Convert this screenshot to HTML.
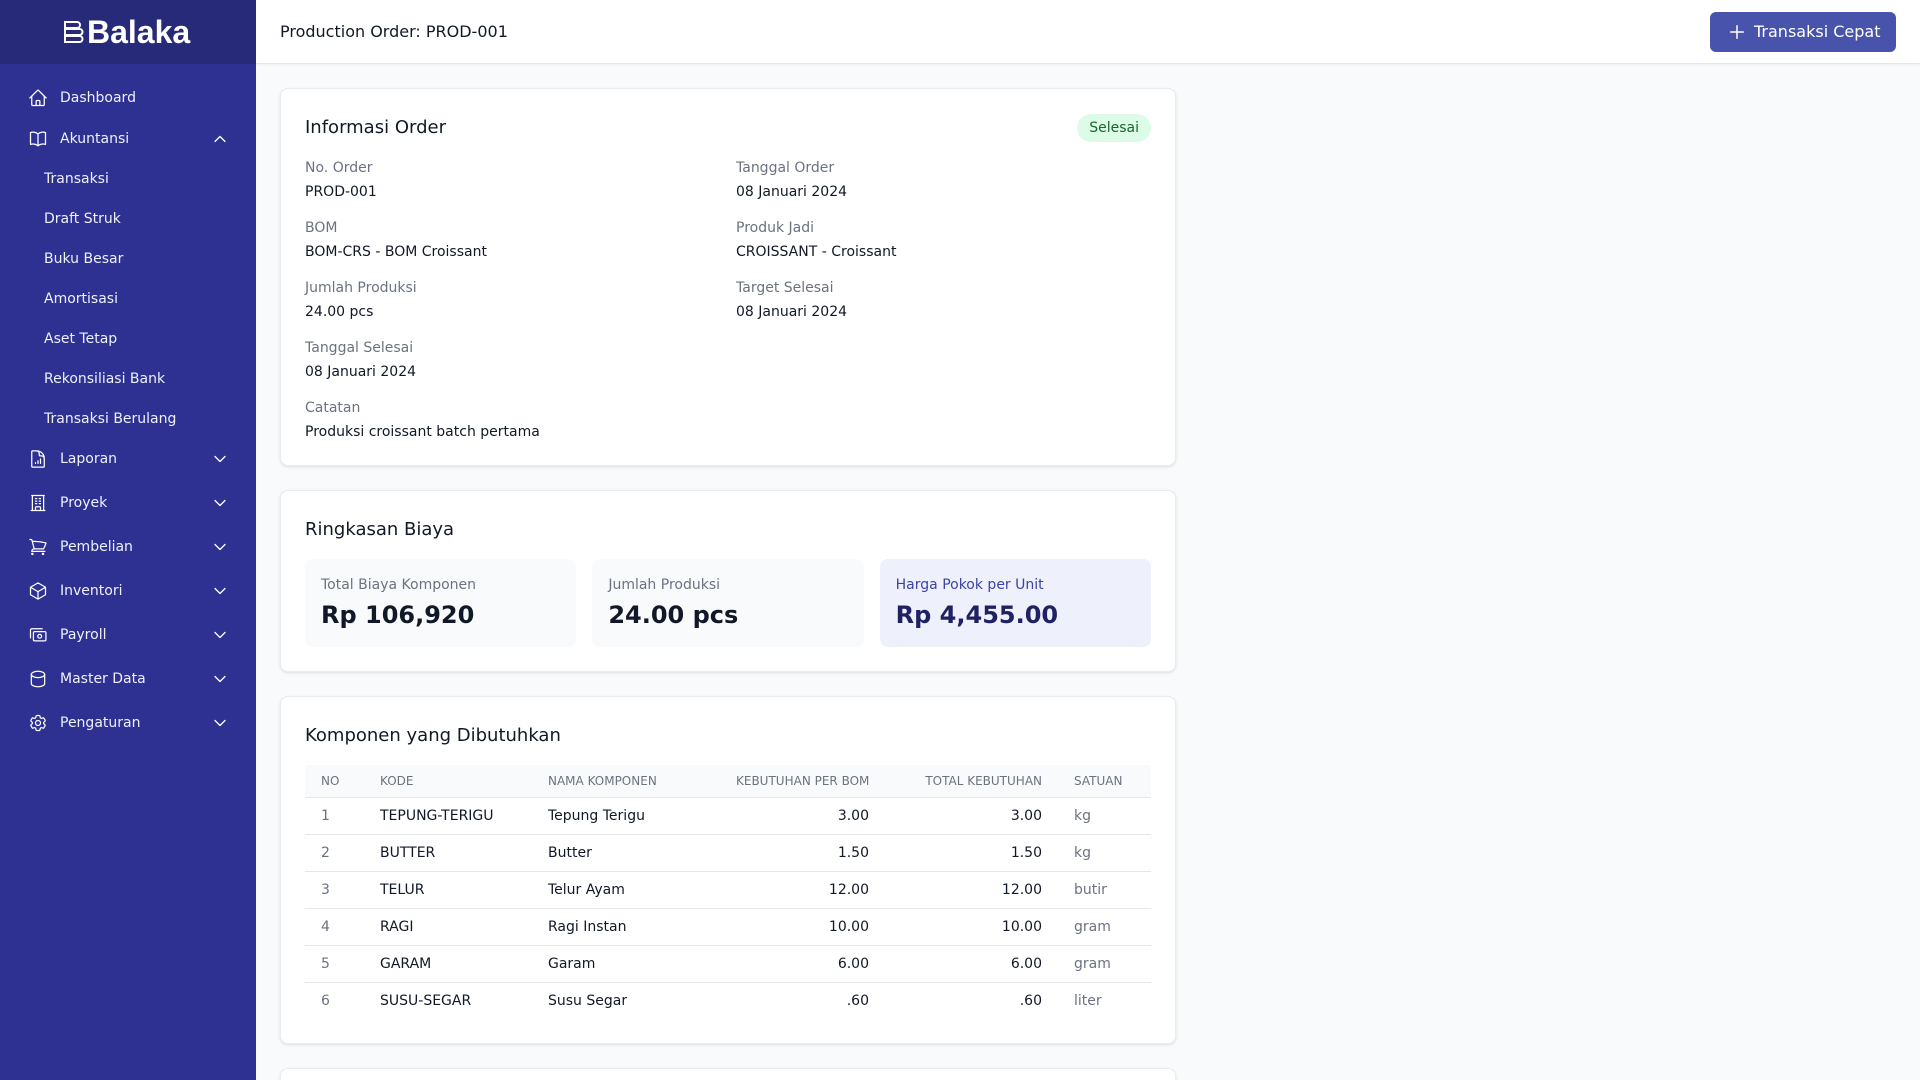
<!DOCTYPE html>
<html>
<head>
<meta charset="utf-8">
<style>
  *{box-sizing:border-box;margin:0;padding:0}
  html,body{width:1920px;height:1080px;overflow:hidden}
  body{font-family:"DejaVu Sans","Liberation Sans",sans-serif;background:#f9fafb;color:#111827;position:relative}
  .sidebar{position:absolute;left:0;top:0;width:256px;height:1080px;background:#2e3192}
  .logo{position:absolute;left:0;top:0;width:256px;height:64px;background:#272a79}
  .logo .txt{position:absolute;left:87px;top:14px;font-family:"Liberation Sans",Arial,sans-serif;font-size:32px;line-height:36px;font-weight:bold;color:#fff}
  .logo svg{position:absolute;left:63px;top:21px}
  .nav{position:absolute;left:0;height:20px;line-height:20px;font-size:14px;color:#eef0fa;white-space:nowrap}
  .nav.top{left:60px}
  .nav.sub{left:44px}
  .ico{position:absolute;left:28px;width:20px;height:20px}
  .chev{position:absolute;left:212px;width:16px;height:16px}
  .header{position:absolute;left:256px;top:0;width:1664px;height:64px;background:#fff;border-bottom:1px solid #e5e7eb;box-shadow:0 1px 2px rgba(0,0,0,0.05)}
  .header .title{position:absolute;left:24px;top:21px;font-size:16px;line-height:22px;color:#111827}
  .btn{position:absolute;left:1454px;top:12px;width:186px;height:40px;background:#4853ab;border-radius:6px;color:#fff;font-size:16px;line-height:40px}
  .btn svg{position:absolute;left:17px;top:10px}
  .btn span{position:absolute;left:44px;top:0}
  .card{position:absolute;left:280px;width:896px;background:#fff;border:1px solid #eaecef;border-radius:8px;box-shadow:0 1px 3px rgba(0,0,0,0.08),0 1px 2px rgba(0,0,0,0.04);padding:24px;overflow:hidden}
  .ctitle{font-size:18px;line-height:28px;color:#111827}
  .hrow{display:flex;justify-content:space-between;align-items:center;height:29px;margin-bottom:16px}
  .badge{background:#dcfce7;color:#166534;font-size:14px;line-height:20px;padding:4px 12px;border-radius:9999px}
  .grid{display:grid;grid-template-columns:1fr 1fr;column-gap:16px;row-gap:16px}
  .lbl{font-size:14px;line-height:20px;color:#6b7280}
  .val{font-size:14px;line-height:20px;color:#111827;margin-top:4px}
  .boxes{display:grid;grid-template-columns:1fr 1fr 1fr;column-gap:16px;margin-top:16px}
  .box{height:88px;border-radius:8px;background:#f9fafb;padding:16px}
  .box .l{font-size:14px;line-height:20px;color:#6b7280}
  .box .v{font-size:24px;line-height:32px;font-weight:bold;color:#111827;margin-top:4px}
  .box.hl{background:#eef0fb}
  .box.hl .l{color:#3d42a6}
  .box.hl .v{color:#1f2163}
  table{border-collapse:collapse;width:100%;margin-top:16px;table-layout:fixed}
  th{background:#f9fafb;font-size:12px;line-height:16px;font-weight:normal;color:#6b7280;text-align:left;padding:8px 16px;border-bottom:1px solid #e5e7eb;white-space:nowrap}
  td{font-size:14px;line-height:20px;padding:8px 16px;color:#111827;white-space:nowrap}
  tbody tr{border-bottom:1px solid #e5e7eb}
  tbody tr:last-child{border-bottom:none}
  .r{text-align:right}
  .g{color:#6b7280}
</style>
</head>
<body>
<div class="sidebar">
  <div class="logo">
    <svg width="22" height="22" viewBox="0 0 22 22" fill="none" stroke="#fff" stroke-width="2">
      <path d="M2 1h12a3 3 0 0 1 0 6H2z"/>
      <path d="M2 8h14.5a3 3 0 0 1 0 6H2z"/>
      <path d="M2 15h14.5a3 3 0 0 1 0 6H2z"/>
    </svg>
    <div class="txt">Balaka</div>
  </div>

  <!-- Dashboard -->
  <svg class="ico" style="top:88px" viewBox="0 0 24 24" fill="none" stroke="#fff" stroke-width="1.5" stroke-linecap="round" stroke-linejoin="round"><path d="m2.25 12 8.954-8.955c.44-.439 1.152-.439 1.591 0L21.75 12M4.5 9.75v10.125c0 .621.504 1.125 1.125 1.125H9.75v-4.875c0-.621.504-1.125 1.125-1.125h2.25c.621 0 1.125.504 1.125 1.125V21h4.125c.621 0 1.125-.504 1.125-1.125V9.75M8.25 21h8.25"/></svg>
  <div class="nav top" style="top:88px">Dashboard</div>

  <!-- Akuntansi -->
  <svg class="ico" style="top:129px" viewBox="0 0 24 24" fill="none" stroke="#fff" stroke-width="1.5" stroke-linecap="round" stroke-linejoin="round"><path d="M12 6.042A8.967 8.967 0 0 0 6 3.75c-1.052 0-2.062.18-3 .512v14.25A8.987 8.987 0 0 1 6 18c2.305 0 4.408.867 6 2.292m0-14.25a8.966 8.966 0 0 1 6-2.292c1.052 0 2.062.18 3 .512v14.25A8.987 8.987 0 0 0 18 18a8.967 8.967 0 0 0-6 2.292m0-14.25v14.25"/></svg>
  <div class="nav top" style="top:129px">Akuntansi</div>
  <svg class="chev" style="top:131px" viewBox="0 0 24 24" fill="none" stroke="#fff" stroke-width="2" stroke-linecap="round" stroke-linejoin="round"><path d="m4.5 15.75 7.5-7.5 7.5 7.5"/></svg>

  <div class="nav sub" style="top:169px">Transaksi</div>
  <div class="nav sub" style="top:209px">Draft Struk</div>
  <div class="nav sub" style="top:249px">Buku Besar</div>
  <div class="nav sub" style="top:289px">Amortisasi</div>
  <div class="nav sub" style="top:329px">Aset Tetap</div>
  <div class="nav sub" style="top:369px">Rekonsiliasi Bank</div>
  <div class="nav sub" style="top:409px">Transaksi Berulang</div>

  <!-- Laporan -->
  <svg class="ico" style="top:449px" viewBox="0 0 24 24" fill="none" stroke="#fff" stroke-width="1.5" stroke-linecap="round" stroke-linejoin="round"><path d="M19.5 14.25v-2.625a3.375 3.375 0 0 0-3.375-3.375h-1.5A1.125 1.125 0 0 1 13.5 7.125v-1.5a3.375 3.375 0 0 0-3.375-3.375H8.25M9 16.5v.75m3-3v3M15 12v5.25m-4.5-15H5.625c-.621 0-1.125.504-1.125 1.125v17.25c0 .621.504 1.125 1.125 1.125h12.75c.621 0 1.125-.504 1.125-1.125V11.25a9 9 0 0 0-9-9Z"/></svg>
  <div class="nav top" style="top:449px">Laporan</div>
  <svg class="chev" style="top:451px" viewBox="0 0 24 24" fill="none" stroke="#fff" stroke-width="2" stroke-linecap="round" stroke-linejoin="round"><path d="m19.5 8.25-7.5 7.5-7.5-7.5"/></svg>

  <!-- Proyek -->
  <svg class="ico" style="top:493px" viewBox="0 0 24 24" fill="none" stroke="#fff" stroke-width="1.5" stroke-linecap="round" stroke-linejoin="round"><path d="M3.75 21h16.5M4.5 3h15M5.25 3v18m13.5-18v18M9 6.75h1.5m-1.5 3h1.5m-1.5 3h1.5m3-6H15m-1.5 3H15m-1.5 3H15M9 21v-3.375c0-.621.504-1.125 1.125-1.125h3.75c.621 0 1.125.504 1.125 1.125V21"/></svg>
  <div class="nav top" style="top:493px">Proyek</div>
  <svg class="chev" style="top:495px" viewBox="0 0 24 24" fill="none" stroke="#fff" stroke-width="2" stroke-linecap="round" stroke-linejoin="round"><path d="m19.5 8.25-7.5 7.5-7.5-7.5"/></svg>

  <!-- Pembelian -->
  <svg class="ico" style="top:537px" viewBox="0 0 24 24" fill="none" stroke="#fff" stroke-width="1.5" stroke-linecap="round" stroke-linejoin="round"><path d="M2.25 3h1.386c.51 0 .955.343 1.087.835l.383 1.437M7.5 14.25a3 3 0 0 0-3 3h15.75m-12.75-3h11.218c1.121-2.3 2.1-4.684 2.924-7.138a60.114 60.114 0 0 0-16.536-1.84M7.5 14.25 5.106 5.272M6 20.25a.75.75 0 1 1-1.5 0 .75.75 0 0 1 1.5 0Zm12.75 0a.75.75 0 1 1-1.5 0 .75.75 0 0 1 1.5 0Z"/></svg>
  <div class="nav top" style="top:537px">Pembelian</div>
  <svg class="chev" style="top:539px" viewBox="0 0 24 24" fill="none" stroke="#fff" stroke-width="2" stroke-linecap="round" stroke-linejoin="round"><path d="m19.5 8.25-7.5 7.5-7.5-7.5"/></svg>

  <!-- Inventori -->
  <svg class="ico" style="top:581px" viewBox="0 0 24 24" fill="none" stroke="#fff" stroke-width="1.5" stroke-linecap="round" stroke-linejoin="round"><path d="m21 7.5-9-5.25L3 7.5m18 0-9 5.25m9-5.25v9l-9 5.25M3 7.5l9 5.25M3 7.5v9l9 5.25m0-9v9"/></svg>
  <div class="nav top" style="top:581px">Inventori</div>
  <svg class="chev" style="top:583px" viewBox="0 0 24 24" fill="none" stroke="#fff" stroke-width="2" stroke-linecap="round" stroke-linejoin="round"><path d="m19.5 8.25-7.5 7.5-7.5-7.5"/></svg>

  <!-- Payroll -->
  <svg class="ico" style="top:625px" viewBox="0 0 24 24" fill="none" stroke="#fff" stroke-width="1.5" stroke-linecap="round" stroke-linejoin="round"><path d="M3 15.5V6a1.5 1.5 0 0 1 1.5-1.5H17"/><rect x="6.5" y="8" width="15" height="11" rx="1.5"/><circle cx="14" cy="13.5" r="2.3"/></svg>
  <div class="nav top" style="top:625px">Payroll</div>
  <svg class="chev" style="top:627px" viewBox="0 0 24 24" fill="none" stroke="#fff" stroke-width="2" stroke-linecap="round" stroke-linejoin="round"><path d="m19.5 8.25-7.5 7.5-7.5-7.5"/></svg>

  <!-- Master Data -->
  <svg class="ico" style="top:669px" viewBox="0 0 24 24" fill="none" stroke="#fff" stroke-width="1.5" stroke-linecap="round" stroke-linejoin="round"><ellipse cx="12" cy="6.5" rx="8" ry="3.8"/><path d="M4 6.5v11c0 2.1 3.6 3.8 8 3.8s8-1.7 8-3.8v-11"/></svg>
  <div class="nav top" style="top:669px">Master Data</div>
  <svg class="chev" style="top:671px" viewBox="0 0 24 24" fill="none" stroke="#fff" stroke-width="2" stroke-linecap="round" stroke-linejoin="round"><path d="m19.5 8.25-7.5 7.5-7.5-7.5"/></svg>

  <!-- Pengaturan -->
  <svg class="ico" style="top:713px" viewBox="0 0 24 24" fill="none" stroke="#fff" stroke-width="1.5" stroke-linecap="round" stroke-linejoin="round"><path d="M9.594 3.94c.09-.542.56-.94 1.11-.94h2.593c.55 0 1.02.398 1.11.94l.213 1.281c.063.374.313.686.645.87.074.04.147.083.22.127.325.196.72.257 1.075.124l1.217-.456a1.125 1.125 0 0 1 1.37.49l1.296 2.247a1.125 1.125 0 0 1-.26 1.431l-1.003.827c-.293.241-.438.613-.43.992a7.723 7.723 0 0 1 0 .255c-.008.378.137.75.43.991l1.004.827c.424.35.534.955.26 1.43l-1.298 2.247a1.125 1.125 0 0 1-1.369.491l-1.217-.456c-.355-.133-.75-.072-1.076.124a6.47 6.47 0 0 1-.22.128c-.331.183-.581.495-.644.869l-.213 1.281c-.09.543-.56.94-1.11.94h-2.594c-.55 0-1.019-.398-1.11-.94l-.213-1.281c-.062-.374-.312-.686-.644-.87a6.52 6.52 0 0 1-.22-.127c-.325-.196-.72-.257-1.076-.124l-1.217.456a1.125 1.125 0 0 1-1.369-.49l-1.297-2.247a1.125 1.125 0 0 1 .26-1.431l1.004-.827c.292-.24.437-.613.43-.991a6.932 6.932 0 0 1 0-.255c.007-.38-.138-.751-.43-.992l-1.004-.827a1.125 1.125 0 0 1-.26-1.43l1.297-2.247a1.125 1.125 0 0 1 1.37-.491l1.216.456c.356.133.751.072 1.076-.124.072-.044.146-.086.22-.128.332-.183.582-.495.644-.869l.214-1.28Z"/><path d="M15 12a3 3 0 1 1-6 0 3 3 0 0 1 6 0Z"/></svg>
  <div class="nav top" style="top:713px">Pengaturan</div>
  <svg class="chev" style="top:715px" viewBox="0 0 24 24" fill="none" stroke="#fff" stroke-width="2" stroke-linecap="round" stroke-linejoin="round"><path d="m19.5 8.25-7.5 7.5-7.5-7.5"/></svg>
</div>

<div class="header">
  <div class="title">Production Order: PROD-001</div>
  <div class="btn">
    <svg width="20" height="20" viewBox="0 0 24 24" fill="none" stroke="#fff" stroke-width="1.8" stroke-linecap="round"><path d="M12 4.5v15m7.5-7.5h-15"/></svg>
    <span>Transaksi Cepat</span>
  </div>
</div>

<!-- Card 1 -->
<div class="card" style="top:88px;height:378px">
  <div class="hrow">
    <div class="ctitle">Informasi Order</div>
    <div class="badge">Selesai</div>
  </div>
  <div class="grid">
    <div><div class="lbl">No. Order</div><div class="val">PROD-001</div></div>
    <div><div class="lbl">Tanggal Order</div><div class="val">08 Januari 2024</div></div>
    <div><div class="lbl">BOM</div><div class="val">BOM-CRS - BOM Croissant</div></div>
    <div><div class="lbl">Produk Jadi</div><div class="val">CROISSANT - Croissant</div></div>
    <div><div class="lbl">Jumlah Produksi</div><div class="val">24.00 pcs</div></div>
    <div><div class="lbl">Target Selesai</div><div class="val">08 Januari 2024</div></div>
    <div><div class="lbl">Tanggal Selesai</div><div class="val">08 Januari 2024</div></div>
    <div></div>
    <div style="grid-column:span 2"><div class="lbl">Catatan</div><div class="val">Produksi croissant batch pertama</div></div>
  </div>
</div>

<!-- Card 2 -->
<div class="card" style="top:490px;height:182px;padding-top:25px">
  <div class="ctitle">Ringkasan Biaya</div>
  <div class="boxes" style="margin-top:15px">
    <div class="box"><div class="l">Total Biaya Komponen</div><div class="v">Rp 106,920</div></div>
    <div class="box"><div class="l">Jumlah Produksi</div><div class="v">24.00 pcs</div></div>
    <div class="box hl"><div class="l">Harga Pokok per Unit</div><div class="v">Rp 4,455.00</div></div>
  </div>
</div>

<!-- Card 3 -->
<div class="card" style="top:696px;height:348px;padding-top:25px">
  <div class="ctitle">Komponen yang Dibutuhkan</div>
  <table style="margin-top:15px">
    <colgroup><col style="width:59px"><col style="width:168px"><col style="width:188px"><col style="width:165px"><col style="width:173px"><col style="width:93px"></colgroup>
    <thead>
      <tr><th>NO</th><th>KODE</th><th>NAMA KOMPONEN</th><th class="r">KEBUTUHAN PER BOM</th><th class="r">TOTAL KEBUTUHAN</th><th>SATUAN</th></tr>
    </thead>
    <tbody>
      <tr><td class="g">1</td><td>TEPUNG-TERIGU</td><td>Tepung Terigu</td><td class="r">3.00</td><td class="r">3.00</td><td class="g">kg</td></tr>
      <tr><td class="g">2</td><td>BUTTER</td><td>Butter</td><td class="r">1.50</td><td class="r">1.50</td><td class="g">kg</td></tr>
      <tr><td class="g">3</td><td>TELUR</td><td>Telur Ayam</td><td class="r">12.00</td><td class="r">12.00</td><td class="g">butir</td></tr>
      <tr><td class="g">4</td><td>RAGI</td><td>Ragi Instan</td><td class="r">10.00</td><td class="r">10.00</td><td class="g">gram</td></tr>
      <tr><td class="g">5</td><td>GARAM</td><td>Garam</td><td class="r">6.00</td><td class="r">6.00</td><td class="g">gram</td></tr>
      <tr><td class="g">6</td><td>SUSU-SEGAR</td><td>Susu Segar</td><td class="r">.60</td><td class="r">.60</td><td class="g">liter</td></tr>
    </tbody>
  </table>
</div>

<!-- Card 4 (partially visible) -->
<div class="card" style="top:1068px;height:12px;padding:0;border-bottom:none;border-bottom-left-radius:0;border-bottom-right-radius:0"></div>
</body>
</html>
